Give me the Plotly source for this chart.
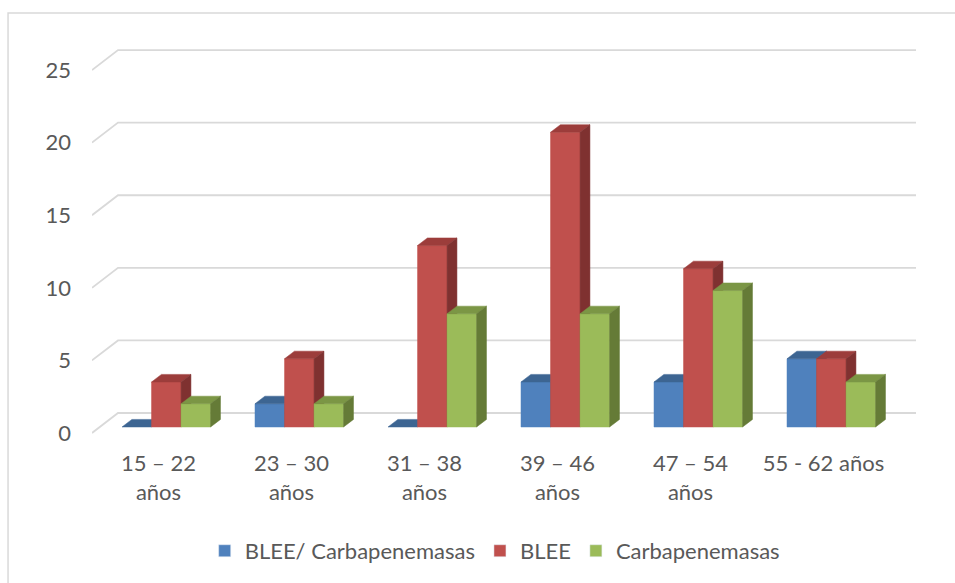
import plotly.graph_objects as go

# Age groups and share of isolates (%) per resistance mechanism
categories = ["15 – 22<br>años", "23 – 30<br>años", "31 – 38<br>años",
              "39 – 46<br>años", "47 – 54<br>años", "55 - 62 años"]
series_names = ["BLEE/ Carbapenemasas", "BLEE", "Carbapenemasas"]
blee_carb = [0, 1.6, 0, 3.1, 3.1, 4.7]
blee = [3.1, 4.7, 12.5, 20.3, 10.9, 4.7]
carb = [1.6, 1.6, 7.8, 7.8, 9.4, 3.1]
y_ticks = [0, 5, 10, 15, 20, 25]

series_values = [blee_carb, blee, carb]
front_colors = ["#4f81bd", "#c0504d", "#9bbb59"]
top_colors = ["#3d6592", "#9c3d3b", "#7b9645"]
side_colors = ["#385d8a", "#7f3130", "#657b37"]

# pseudo-3D geometry (in axis units)
DX, DY = 0.1955, 1.377          # full floor depth offset
F0 = 0.30                       # depth of bar front face
BD = 0.38                       # bar depth
BAR_W = 0.222
GRID = "#d9d9d9"
TEXT = "#595959"
FONT = "Lato, Carlito, sans-serif"

fig = go.Figure()

# back wall gridlines and the slanted stubs on the left wall
n = len(categories)
for v in y_ticks:
    fig.add_trace(go.Scatter(
        x=[-0.5, -0.5 + DX, n - 0.5 + DX], y=[v, v + DY, v + DY],
        mode="lines", line=dict(color=GRID, width=1.8),
        hoverinfo="skip", showlegend=False))


def poly(xs, ys, color):
    fig.add_trace(go.Scatter(
        x=xs + [xs[0]], y=ys + [ys[0]], mode="lines", fill="toself",
        fillcolor=color, line=dict(color=color, width=0.5),
        hoverinfo="skip", showlegend=False))


fx, fy = F0 * DX, F0 * DY
bx, by = BD * DX, BD * DY
for i in range(n):
    for j, vals in enumerate(series_values):
        v = vals[i]
        x0 = i + fx + (j - 1.5) * BAR_W
        x1 = x0 + BAR_W
        if v > 0:
            poly([x0, x1, x1, x0], [fy, fy, fy + v, fy + v], front_colors[j])
        poly([x0, x1, x1 + bx, x0 + bx],
             [fy + v, fy + v, fy + v + by, fy + v + by], top_colors[j])
        if v > 0:
            poly([x1, x1 + bx, x1 + bx, x1],
                 [fy, fy + by, fy + v + by, fy + v], side_colors[j])

# legend entries
for j, name in enumerate(series_names):
    fig.add_trace(go.Bar(x=[None], y=[None], name=name,
                         marker=dict(color=front_colors[j])))

fig.update_layout(
    width=955, height=583,
    margin=dict(l=92, r=35, t=40, b=143),
    paper_bgcolor="white", plot_bgcolor="white",
    font=dict(family=FONT, size=22, color=TEXT),
    showlegend=True,
    legend=dict(orientation="h", xref="container", yref="container",
                x=0.518, y=0.055, xanchor="center", yanchor="middle",
                font=dict(size=22, color=TEXT), itemwidth=30,
                traceorder="normal"),
    xaxis=dict(range=[-0.5, n - 0.5 + 0.2256], tickvals=list(range(n)),
               ticktext=categories, showgrid=False, zeroline=False,
               showline=False, ticks="", ticklabelstandoff=8,
               tickfont=dict(size=22, color=TEXT)),
    yaxis=dict(range=[-0.482, 27.07], tickvals=y_ticks, showgrid=False,
               zeroline=False, showline=False, ticks="",
               ticklabelstandoff=20, tickfont=dict(size=22, color=TEXT)),
    shapes=[dict(type="rect", xref="paper", yref="paper",
                 x0=-0.1014, y0=-0.4, x1=1.08, y1=1.0675,
                 line=dict(color=GRID, width=1.5))],
)

fig.write_html("out.html")
